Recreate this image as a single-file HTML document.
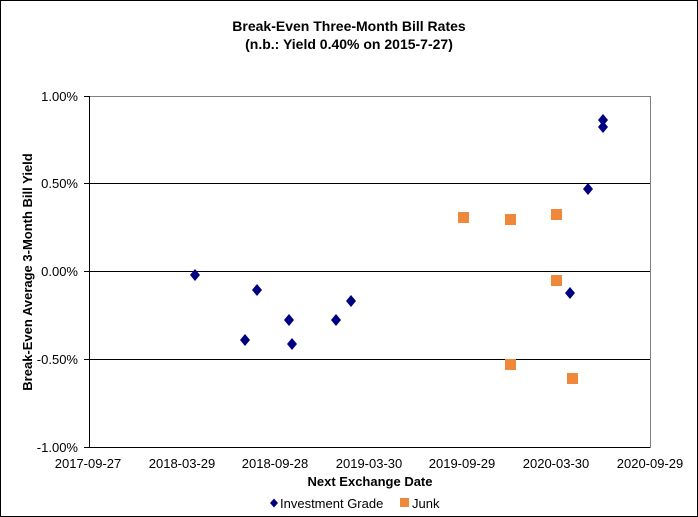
<!DOCTYPE html>
<html><head><meta charset="utf-8"><style>
body{margin:0;background:#fff}
svg{display:block;font-family:"Liberation Sans",Arial,sans-serif}
</style></head><body>
<svg width="698" height="517" viewBox="0 0 698 517">
<rect x="0.5" y="0.5" width="697" height="516" fill="#fff" stroke="#000"/>
<text x="349" y="31" text-anchor="middle" font-size="14" font-weight="bold">Break-Even Three-Month Bill Rates</text>
<text x="349" y="49" text-anchor="middle" font-size="14" font-weight="bold">(n.b.: Yield 0.40% on 2015-7-27)</text>
<rect x="89.5" y="96.5" width="561" height="351" fill="#fff" stroke="#808080"/>
<g stroke="#000" stroke-width="1">
<line x1="89" y1="183.5" x2="650" y2="183.5"/>
<line x1="89" y1="271.5" x2="650" y2="271.5"/>
<line x1="89" y1="359.5" x2="650" y2="359.5"/>
<line x1="89.5" y1="96" x2="89.5" y2="448"/>
<line x1="89" y1="447.5" x2="650" y2="447.5"/>
<line x1="84" y1="96.5" x2="89" y2="96.5"/>
<line x1="84" y1="183.5" x2="89" y2="183.5"/>
<line x1="84" y1="271.5" x2="89" y2="271.5"/>
<line x1="84" y1="359.5" x2="89" y2="359.5"/>
<line x1="84" y1="447.5" x2="89" y2="447.5"/>
</g>
<g font-size="13" text-anchor="end">
<text x="78" y="101">1.00%</text>
<text x="78" y="188">0.50%</text>
<text x="78" y="276">0.00%</text>
<text x="78" y="364">-0.50%</text>
<text x="78" y="452">-1.00%</text>
</g>
<g font-size="13" text-anchor="middle">
<text x="88" y="468">2017-09-27</text>
<text x="182" y="468">2018-03-29</text>
<text x="275" y="468">2018-09-28</text>
<text x="369" y="468">2019-03-30</text>
<text x="462" y="468">2019-09-29</text>
<text x="556" y="468">2020-03-30</text>
<text x="650" y="468">2020-09-29</text>
</g>
<text x="370" y="486" text-anchor="middle" font-size="13" font-weight="bold">Next Exchange Date</text>
<text transform="translate(32,272) rotate(-90)" text-anchor="middle" font-size="13" font-weight="bold">Break-Even Average 3-Month Bill Yield</text>
<g fill="#000080">
<path d="M0,-6 L5,0 L0,6 L-5,0Z" transform="translate(195,275)"/>
<path d="M0,-6 L5,0 L0,6 L-5,0Z" transform="translate(245,340)"/>
<path d="M0,-6 L5,0 L0,6 L-5,0Z" transform="translate(257,290)"/>
<path d="M0,-6 L5,0 L0,6 L-5,0Z" transform="translate(289,320)"/>
<path d="M0,-6 L5,0 L0,6 L-5,0Z" transform="translate(292,344)"/>
<path d="M0,-6 L5,0 L0,6 L-5,0Z" transform="translate(336,320)"/>
<path d="M0,-6 L5,0 L0,6 L-5,0Z" transform="translate(351,301)"/>
<path d="M0,-6 L5,0 L0,6 L-5,0Z" transform="translate(570,293)"/>
<path d="M0,-6 L5,0 L0,6 L-5,0Z" transform="translate(588,189)"/>
<path d="M0,-6 L5,0 L0,6 L-5,0Z" transform="translate(603,120)"/>
<path d="M0,-6 L5,0 L0,6 L-5,0Z" transform="translate(603,127)"/>
<path d="M0,-4.5 L4,0 L0,4.5 L-4,0Z" transform="translate(274,503)"/>
</g>
<g fill="#F0883C">
<rect x="458" y="212" width="11" height="11"/>
<rect x="505" y="214" width="11" height="11"/>
<rect x="505" y="359" width="11" height="11"/>
<rect x="551" y="209" width="11" height="11"/>
<rect x="551" y="275" width="11" height="11"/>
<rect x="567" y="373" width="11" height="11"/>
<rect x="400" y="498" width="9" height="9"/>
</g>
<text x="280" y="508" font-size="13">Investment Grade</text>
<text x="412" y="508" font-size="13">Junk</text>
</svg>
</body></html>
